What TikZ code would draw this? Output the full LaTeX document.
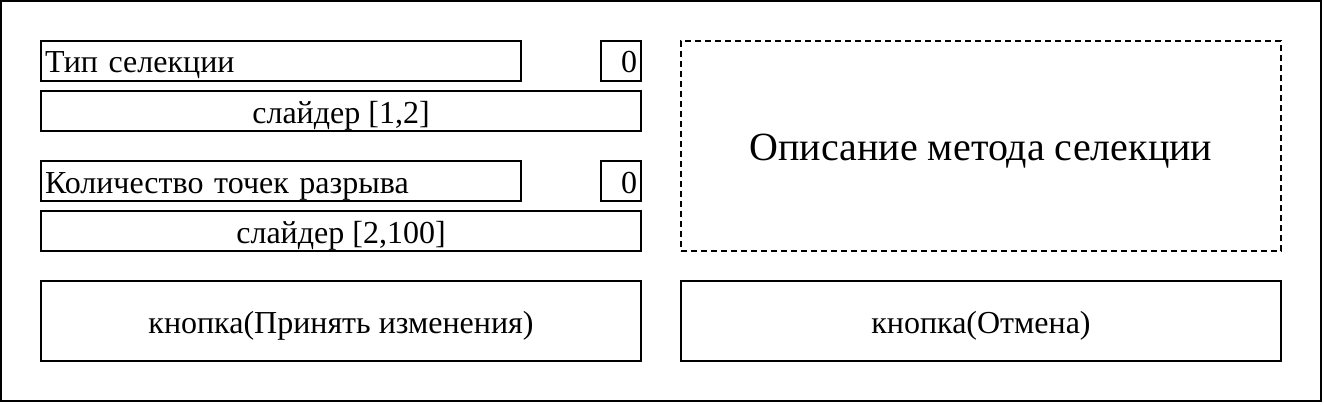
\documentclass[tikz,border=0pt]{standalone}
\usepackage{fontspec}
\setmainfont{Liberation Serif}
\usetikzlibrary{positioning}

\tikzset{
  field/.style={draw,line width=2pt,inner sep=4pt,minimum height=40pt,text height=24pt,text depth=0pt},
  label/.style={field,text width=472pt,align=left},
  value/.style={field,text width=32pt,align=right},
  slider/.style={field,minimum width=600pt,align=center},
  button/.style={field,minimum width=600pt,minimum height=80pt,align=center}
}

\begin{document}
\begin{tikzpicture}[x=1pt,y=-1pt,font=\fontsize{32}{38}\selectfont]
  \useasboundingbox (0,0) rectangle (1324,404);

  \node at (661,201) [draw,line width=2pt,minimum width=1320pt,minimum height=400pt] (window) {};

  \node at (281,61) [label] (typelabel) {Тип селекции};
  \node at (621,61) [value] (typevalue) {0};
  \node at (341,111) [slider] (typeslider) {слайдер [1,2]};

  \node at (281,181) [label] (breaklabel) {Количество точек разрыва};
  \node at (621,181) [value] (breakvalue) {0};
  \node at (341,231) [slider] (breakslider) {слайдер [2,100]};

  \node at (981,146) [draw,dash pattern=on 6pt off 4pt,line width=2pt,minimum width=600pt,minimum height=210pt,text height=28pt,text depth=0pt,font=\fontsize{40}{48}\selectfont] (description) {Описание метода селекции};

  \node at (341,321) [button] (accept) {кнопка(Принять изменения)};
  \node at (981,321) [button] (cancel) {кнопка(Отмена)};
\end{tikzpicture}
\end{document}
